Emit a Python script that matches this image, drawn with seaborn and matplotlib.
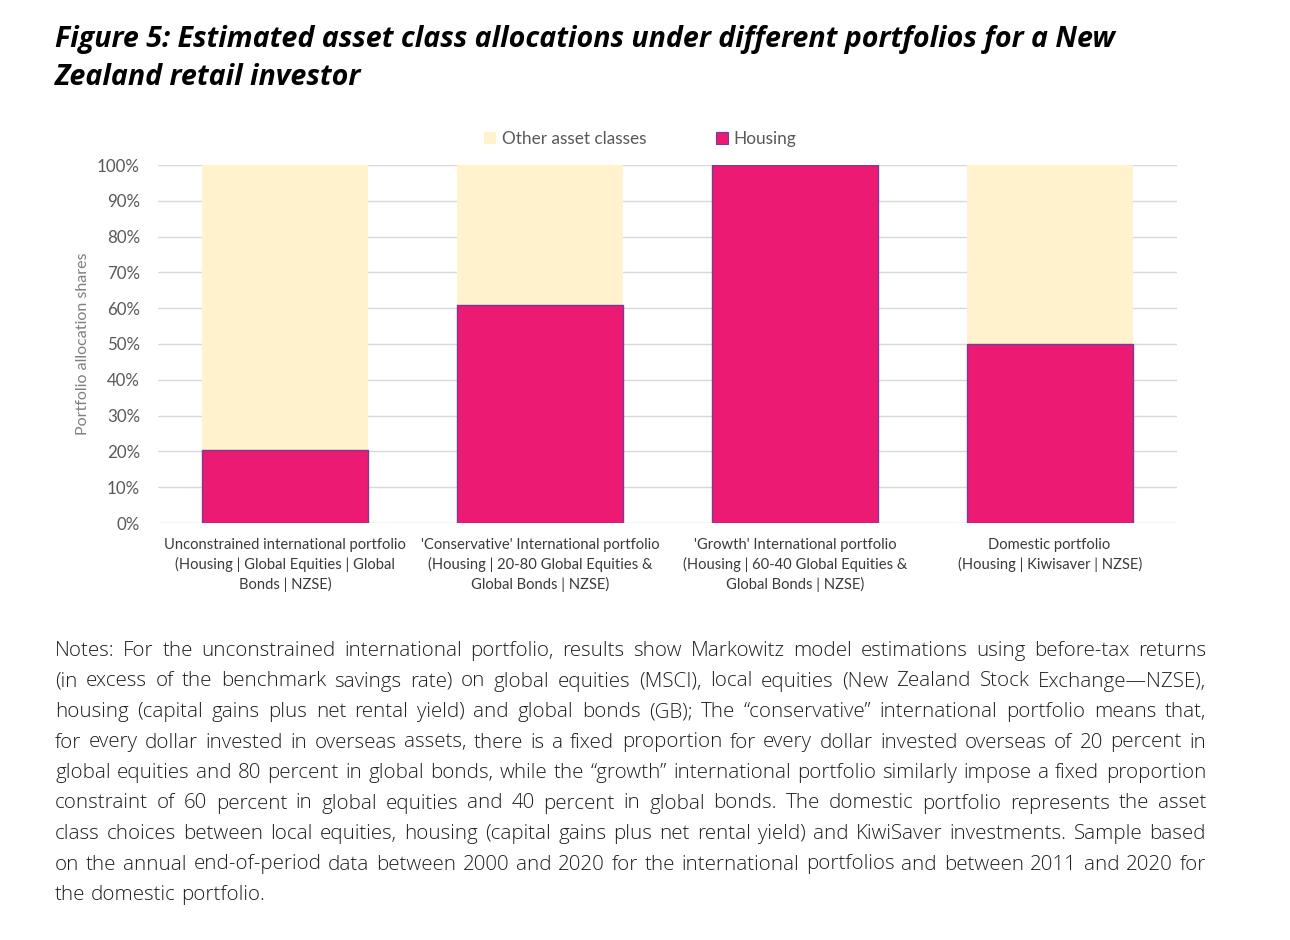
import matplotlib
matplotlib.use("Agg")
import matplotlib.pyplot as plt
import seaborn as sns
import pandas as pd
from matplotlib.patches import Patch

# ---------------- data ----------------
categories = [
    "Unconstrained international portfolio\n(Housing | Global Equities | Global\nBonds | NZSE)",
    "'Conservative' International portfolio\n(Housing | 20-80 Global Equities &\nGlobal Bonds | NZSE)",
    "'Growth' International portfolio\n(Housing | 60-40 Global Equities &\nGlobal Bonds | NZSE)",
    "Domestic portfolio\n(Housing | Kiwisaver | NZSE)",
]
housing = [20.3, 61.0, 100.0, 50.0]
other_assets = [79.7, 39.0, 0.0, 50.0]
series_names = ["Other asset classes", "Housing"]
yticks = [0, 10, 20, 30, 40, 50, 60, 70, 80, 90, 100]

title_lines = [
    "Figure 5: Estimated asset class allocations under different portfolios for a New",
    "Zealand retail investor",
]
notes_lines = [
    "Notes: For the unconstrained international portfolio, results show Markowitz model estimations using before-tax returns",
    "(in excess of the benchmark savings rate) on global equities (MSCI), local equities (New Zealand Stock Exchange\u2014NZSE),",
    "housing (capital gains plus net rental yield) and global bonds (GB); The \u201cconservative\u201d international portfolio means that,",
    "for every dollar invested in overseas assets, there is a fixed proportion for every dollar invested overseas of 20 percent in",
    "global equities and 80 percent in global bonds, while the \u201cgrowth\u201d international portfolio similarly impose a fixed proportion",
    "constraint of 60 percent in global equities and 40 percent in global bonds. The domestic portfolio represents the asset",
    "class choices between local equities, housing (capital gains plus net rental yield) and KiwiSaver investments. Sample based",
    "on the annual end-of-period data between 2000 and 2020 for the international portfolios and between 2011 and 2020 for",
    "the domestic portfolio.",
]

# ---------------- style ----------------
sns.set_theme(style="white")
plt.rcParams['font.family'] = ['Lato', 'DejaVu Sans']

W, H = 1290, 940
fig = plt.figure(figsize=(W / 100, H / 100), dpi=100)

def fx(px):
    return px / W

def fy(py):
    return 1 - py / H

ax = fig.add_axes([fx(158), fy(523), fx(1177) - fx(158), fy(165) - fy(523)])

df = pd.DataFrame({"portfolio": categories, "Housing": housing, "Other": other_assets})
df["total"] = df["Housing"] + df["Other"]

HOUSING_C = "#EC1A72"
OTHER_C = "#FFF2CC"

sns.barplot(data=df, x="portfolio", y="total", color=OTHER_C, saturation=1,
            width=0.652, ax=ax, linewidth=0)
sns.barplot(data=df, x="portfolio", y="Housing", color=HOUSING_C, saturation=1,
            width=0.652, ax=ax, edgecolor="#7A3A9A", linewidth=1.0)

ax.set_xlim(-0.5, 3.5)
ax.set_ylim(0, 100)
ax.set_yticks(yticks)
ax.set_yticklabels([f"{v}%" for v in yticks])
ax.set_axisbelow(True)
ax.yaxis.grid(True, color="#D9D9D9", linewidth=1.0)
ax.xaxis.grid(False)
for s in ax.spines.values():
    s.set_visible(False)
ax.tick_params(axis="y", length=0, pad=13, labelsize=12.2, labelcolor="#595959")
ax.tick_params(axis="x", length=0, pad=11, labelsize=10.6, labelcolor="#3A3A3A")
for lab in ax.get_xticklabels():
    lab.set_linespacing(1.38)
    lab.set_ha("center")
ax.set_xlabel("")
ax.set_ylabel("Portfolio allocation shares", fontsize=11.5, color="#7F7F7F")
ax.yaxis.set_label_coords(-(158 - 90) / (1177 - 158), 0.5)

# legend
handles = [Patch(facecolor=OTHER_C, edgecolor="none"),
           Patch(facecolor=HOUSING_C, edgecolor="#7A3A9A", linewidth=0.8)]
fig.legend(handles, series_names, loc="center", bbox_to_anchor=(fx(640), fy(139)),
           ncol=2, frameon=False, fontsize=12.4, labelcolor="#595959",
           handlelength=0.7, handleheight=0.7, handletextpad=0.3,
           columnspacing=4.05)

# title
for i, line in enumerate(title_lines):
    fig.text(fx(55), fy(47 + i * 38), line, fontsize=20.6, fontweight="bold",
             fontstyle="italic", family=["Open Sans", "DejaVu Sans"], color="#000000",
             va="baseline", ha="left")

# notes, justified
renderer = fig.canvas.get_renderer()
note_kw = dict(fontsize=14.8, fontweight="light", family=["Open Sans", "DejaVu Sans"],
               color="#1F1F1F", va="baseline", ha="left")
x0, x1 = 55, 1206

def width_px(t):
    return t.get_window_extent(renderer=renderer).width

probe_a = fig.text(0, 0, "a a", **note_kw)
probe_b = fig.text(0, 0, "aa", **note_kw)
space_w = width_px(probe_a) - width_px(probe_b)
probe_a.remove(); probe_b.remove()

for i, line in enumerate(notes_lines):
    y = fy(656 + i * 30.5)
    words = line.split(" ")
    objs = [fig.text(0, y, w, **note_kw) for w in words]
    widths = [width_px(o) for o in objs]
    last = (i == len(notes_lines) - 1)
    if last or len(words) < 2:
        gap = space_w
    else:
        gap = (x1 - x0 - sum(widths)) / (len(words) - 1)
    x = x0
    for o, w in zip(objs, widths):
        o.set_x(fx(x))
        x += w + gap

fig.savefig("out.png", dpi=100, facecolor="white")
